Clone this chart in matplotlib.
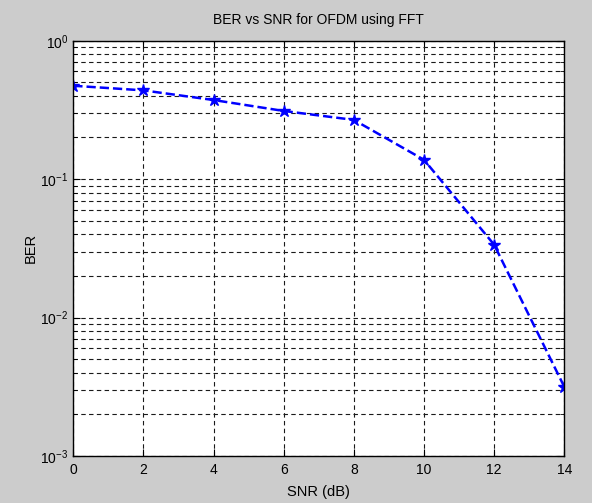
import matplotlib
matplotlib.use("Agg")
import matplotlib.pyplot as plt
from matplotlib.ticker import LogLocator

snr_db = [0, 2, 4, 6, 8, 10, 12, 14]
ber = [0.473, 0.438, 0.373, 0.311, 0.268, 0.138, 0.0336, 0.00316]
x_ticks = [0, 2, 4, 6, 8, 10, 12, 14]

plt.rcParams["font.family"] = ["Liberation Sans", "DejaVu Sans"]
plt.rcParams["mathtext.fontset"] = "custom"
plt.rcParams["mathtext.rm"] = "Liberation Sans"

fig = plt.figure(figsize=(5.92, 5.03), dpi=100, facecolor="#cccccc")
ax = fig.add_axes([0.1238, 0.0934, 0.8294, 0.8256])
ax.set_facecolor("white")

ax.plot(snr_db, ber, color="blue", linestyle="--", linewidth=1.8,
        marker="*", markersize=9, markerfacecolor="blue", markeredgecolor="blue")

ax.set_yscale("log")
ax.set_xlim(0, 14)
ax.set_ylim(1e-3, 1)
ax.set_xticks(x_ticks)
ax.yaxis.set_minor_locator(LogLocator(base=10, subs=range(2, 10)))

grid_style = dict(color="#1a1a1a", linestyle=(0, (4, 3)), linewidth=0.8)
ax.grid(True, which="major", axis="both", **grid_style)
ax.grid(True, which="minor", axis="y", **grid_style)

ax.tick_params(which="both", direction="in", top=True, right=True,
               labelsize=10, colors="black")
ax.tick_params(which="major", length=5)
ax.tick_params(which="minor", length=3)
ax.tick_params(axis="x", pad=5)
for s in ax.spines.values():
    s.set_linewidth(1.0)

ax.set_title("BER vs SNR for OFDM using FFT", fontsize=10, pad=12)
ax.set_xlabel("SNR (dB)", fontsize=10.5, labelpad=6)
ax.set_ylabel("BER", fontsize=10.5, labelpad=2)

fig.savefig("out.png", dpi=100, facecolor=fig.get_facecolor())
